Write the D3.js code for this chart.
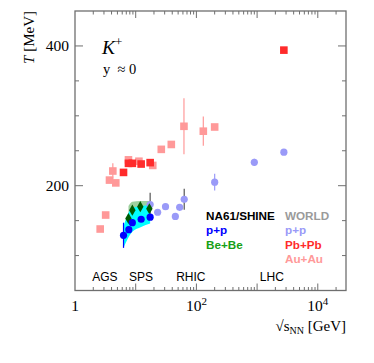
<!DOCTYPE html>
<html><head><meta charset="utf-8">
<script src="https://cdn.jsdelivr.net/npm/d3@7"></script>
<style>body{margin:0;background:#fff}svg{display:block}</style>
</head><body><svg id="c" width="374" height="363"></svg>
<script>
// ---- data ----
const auauX   = [2.6, 3.2, 3.7, 4.2, 4.7, 7.6, 11.3, 19.1, 26.4, 38.6, 62.4, 130, 200];
const auauT   = [138, 158, 208, 221, 204, 237, 235, 229, 252, 259, 285, 278, 284];
const auauErr = [0, 0, 0, 11, 0, 0, 0, 0, 0, 0, 40, 21, 0];

const pbpbX   = [6.3, 7.6, 8.8, 12.3, 17.3, 2760];
const pbpbT   = [219, 232, 232, 231, 233, 394];

const worldX   = [17.3, 23, 31, 45, 53, 63, 200, 900, 2760];
const worldT   = [173, 162, 170, 156, 169, 180.5, 205, 233.5, 248];
const worldErr = [17, 0, 0, 0, 0, 15, 12, 5, 0];
const worldErrSource = ["NA49", "", "", "", "", "ISR", "RHIC", "Tevatron", ""];

const ppX    = [6.3, 7.7, 8.8, 12.3, 17.3];
const ppT    = [129, 137, 147, 152, 155];
const ppErr  = [18, 0, 0, 0, 0];
const ppSysLo = [111, 127, 134, 141, 146];
const ppSysHi = [142, 162, 168, 171, 172];

const bebeX    = [7.6, 8.8, 11.9, 16.8];
const bebeT    = [153, 165, 170, 167];
const bebeSysLo = [143, 155, 160, 157];
const bebeSysHi = [171, 177, 178, 178];

const regionNames = ["AGS", "SPS", "RHIC", "LHC"];
const regionX     = [3.1, 12.2, 81, 1750];

const yTickMajor = [200, 400];
const yTickMinor = [100, 150, 250, 300, 350];
const xTickLabelVals = [1, 100, 10000];
const xTickLabelExp  = ["", "2", "4"];

const legendLeft  = ["NA61/SHINE", "p+p", "Be+Be"];
const legendRight = ["WORLD", "p+p", "Pb+Pb", "Au+Au"];

// ---- drawing ----
const serif = "'Liberation Serif','Times New Roman',serif";
const sans = "'Liberation Sans',Arial,Helvetica,sans-serif";
const C = {auau:"#ff9999", pbpb:"#ff2b2b", world:"#9a9af8", pp:"#0000ff", bebe:"#005a00",
           cyan:"#00ffff", band:"#86c486", frame:"#6f6f6f", errDark:"#555"};

const svg = d3.select("#c");
svg.append("rect").attr("width",374).attr("height",363).attr("fill","#fff");
const x = d3.scaleLog().domain([1, 29150]).range([75, 346]);
const y = d3.scaleLinear().domain([50, 450]).range([290.5, 11]);
const [x0,x1] = x.range(), [y0,y1] = y.range();

// bands
const zip = (xs, a, b) => xs.map((v,i)=>({x:v, lo:a[i], hi:b[i]}));
const area = d3.area().x(d=>x(d.x)).y0(d=>y(d.lo)).y1(d=>y(d.hi)).curve(d3.curveMonotoneX);
svg.append("path").datum(zip(bebeX, bebeSysLo, bebeSysHi)).attr("d", area)
   .attr("fill", C.band).attr("opacity", 0.8);
svg.append("path").datum(zip(ppX, ppSysLo, ppSysHi)).attr("d", area).attr("fill", C.cyan);

// error bars
function errs(xs, ts, es, color) {
  const d = xs.map((v,i)=>({x:v, t:ts[i], e:es[i], i})).filter(d=>d.e>0);
  svg.append("g").selectAll("line").data(d).join("line")
    .attr("x1", d=>x(d.x)).attr("x2", d=>x(d.x))
    .attr("y1", d=>y(d.t-d.e)).attr("y2", d=>y(d.t+d.e))
    .attr("stroke", typeof color === "function" ? color : ()=>color).attr("stroke-width", 1.2);
}
errs(worldX, worldT, worldErr, d => (worldErrSource[d.i]==="NA49"||worldErrSource[d.i]==="ISR") ? C.errDark : C.world);
errs(auauX, auauT, auauErr, C.auau);
errs(ppX, ppT, ppErr, C.pp);

// markers
function circles(xs, ts, color, r) {
  svg.append("g").selectAll("circle").data(xs.map((v,i)=>[v,ts[i]])).join("circle")
    .attr("cx", d=>x(d[0])).attr("cy", d=>y(d[1])).attr("r", r).attr("fill", color);
}
function squares(xs, ts, color, s) {
  svg.append("g").selectAll("rect").data(xs.map((v,i)=>[v,ts[i]])).join("rect")
    .attr("x", d=>x(d[0])-s/2).attr("y", d=>y(d[1])-s/2).attr("width", s).attr("height", s).attr("fill", color);
}
circles(worldX, worldT, C.world, 3.6);
squares(auauX, auauT, C.auau, 7.6);
squares(pbpbX, pbpbT, C.pbpb, 7.6);
svg.append("g").selectAll("path").data(bebeX.map((v,i)=>[v,bebeT[i]])).join("path")
  .attr("d", d3.symbol(d3.symbolDiamond, 36)).attr("transform", d=>`translate(${x(d[0])},${y(d[1])})`)
  .attr("fill", C.bebe);
circles(ppX, ppT, C.pp, 3.6);

// frame
svg.append("rect").attr("x", x0).attr("y", y1).attr("width", x1-x0).attr("height", y0-y1)
  .attr("fill","none").attr("stroke", C.frame).attr("stroke-width", 1.3);

// ticks
const tg = svg.append("g").attr("stroke", C.frame).attr("stroke-width", 1);
const xMajor = [], xMinor = [];
for (let k=0; k<=4; k++) for (let m=1; m<=9; m++) {
  const v = m*Math.pow(10,k); if (v >= x.domain()[1]) break;
  (m===1 ? xMajor : xMinor).push(v);
}
function xt(vals, len) {
  tg.append("g").selectAll("line").data(vals.filter(v=>v>1)).join("line")
    .attr("x1", d=>x(d)).attr("x2", d=>x(d)).attr("y1", y0).attr("y2", y0-len);
  tg.append("g").selectAll("line").data(vals.filter(v=>v>1)).join("line")
    .attr("x1", d=>x(d)).attr("x2", d=>x(d)).attr("y1", y1).attr("y2", y1+len);
}
xt(xMajor, 7); xt(xMinor, 3.5);
function yt(vals, len) {
  tg.append("g").selectAll("line").data(vals).join("line")
    .attr("y1", d=>y(d)).attr("y2", d=>y(d)).attr("x1", x0).attr("x2", x0+len);
  tg.append("g").selectAll("line").data(vals).join("line")
    .attr("y1", d=>y(d)).attr("y2", d=>y(d)).attr("x1", x1).attr("x2", x1-len);
}
yt(yTickMajor, 8); yt(yTickMinor, 4);

// tick labels
svg.append("g").selectAll("text").data(yTickMajor).join("text")
  .attr("x", x0-6).attr("y", d=>y(d)+5.5).attr("text-anchor","end")
  .attr("font-family", serif).attr("font-size", 15.5).text(d=>d);
xTickLabelVals.forEach((v,i)=>{
  const t = svg.append("text").attr("x", x(v)).attr("y", 311).attr("text-anchor","middle")
    .attr("font-family", serif).attr("font-size", 15.5);
  if (xTickLabelExp[i]) {
    t.append("tspan").text("10");
    t.append("tspan").attr("dy", -6).attr("font-size", 11).text(xTickLabelExp[i]);
  } else t.text(String(v));
});

// axis titles
const xt2 = svg.append("text").attr("x", 346).attr("y", 331).attr("text-anchor","end")
  .attr("font-family", serif).attr("font-size", 15);
xt2.append("tspan").text("√");
xt2.append("tspan").text("s");
xt2.append("tspan").attr("dy", 3).attr("font-size", 10).text("NN");
xt2.append("tspan").attr("dy", -3).text(" [GeV]");

const yt2 = svg.append("text").attr("transform", "translate(34,11) rotate(-90)").attr("text-anchor","end")
  .attr("font-family", serif).attr("font-size", 15);
yt2.append("tspan").attr("font-style","italic").text("T");
yt2.append("tspan").text(" [MeV]");

// K+ label
const kt = svg.append("text").attr("x", 102).attr("y", 53.5).attr("font-family", serif).attr("font-size", 19.5);
kt.append("tspan").attr("font-style","italic").text("K");
kt.append("tspan").attr("dy", -8).attr("font-size", 13).text("+");
svg.append("text").attr("x", 103).attr("y", 74).attr("font-family", serif).attr("font-size", 14.5)
  .attr("xml:space","preserve").text("y  \u2248 0");

// region labels
svg.append("g").selectAll("text").data(regionNames).join("text")
  .attr("x", (d,i)=>x(regionX[i])).attr("y", 281).attr("text-anchor","middle")
  .attr("font-family", sans).attr("font-size", 12).text(d=>d);

// legend
const lcolL = ["#000", C.pp, "#16a016"];
const lcolR = ["#9a9a9a", C.world, C.pbpb, C.auau];
const lg = svg.append("g").attr("font-family", sans).attr("font-weight","bold").attr("font-size", 11.7);
lg.selectAll("text.l").data(legendLeft).join("text").attr("class","l")
  .attr("x", 206).attr("y", (d,i)=>220+i*14.3).attr("fill", (d,i)=>lcolL[i]).text(d=>d);
lg.selectAll("text.r").data(legendRight).join("text").attr("class","r")
  .attr("x", 285).attr("y", (d,i)=>220+i*14.3).attr("fill", (d,i)=>lcolR[i]).text(d=>d);
</script></body></html>
